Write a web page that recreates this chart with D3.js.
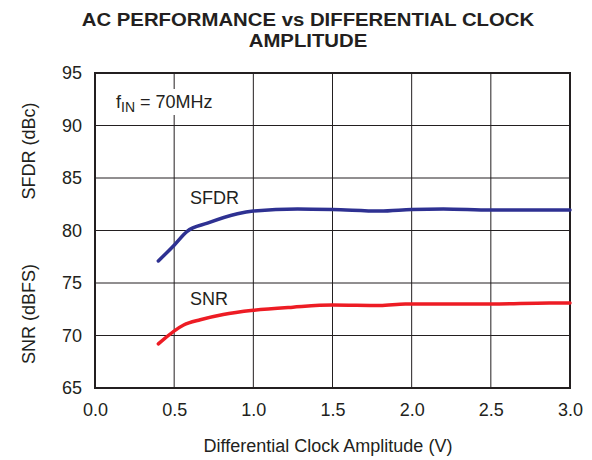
<!DOCTYPE html>
<html><head><meta charset="utf-8">
<script src="https://cdn.jsdelivr.net/npm/d3@7"></script>
<style>body{margin:0;background:#fff}svg{display:block}text{font-family:"Liberation Sans",Arial,sans-serif;fill:#231f20}</style>
</head><body><svg id="c" width="592" height="460"></svg>
<script>
const xTicks = [0.0, 0.5, 1.0, 1.5, 2.0, 2.5, 3.0];
const yTicks = [65, 70, 75, 80, 85, 90, 95];
const sfdrX = [0.4, 0.5, 0.58, 0.71, 0.9, 1.0, 1.28, 1.5, 1.8, 2.0, 2.2, 2.5, 3.0];
const sfdrY = [77.1, 78.6, 79.9, 80.7, 81.6, 81.85, 82.05, 82.0, 81.85, 82.0, 82.05, 81.95, 81.95];
const snrX = [0.4, 0.56, 0.665, 0.81, 1.0, 1.25, 1.5, 1.8, 1.96, 2.5, 2.87, 3.0];
const snrY = [69.2, 71.0, 71.5, 72.0, 72.4, 72.7, 72.9, 72.85, 73.0, 73.0, 73.1, 73.1];

const svg = d3.select("#c");
const L = 95, R = 570, T = 73, B = 388;
const x = d3.scaleLinear().domain([0, 3]).range([L, R]);
const y = d3.scaleLinear().domain([65, 95]).range([B, T]);
const FF = '"Liberation Sans",Arial,sans-serif';

// title
svg.append("text").attr("transform", "translate(308,26) scale(1.13,1)").attr("text-anchor", "middle")
  .style("font-size", "18px").style("font-weight", "bold").text("AC PERFORMANCE vs DIFFERENTIAL CLOCK");
svg.append("text").attr("transform", "translate(308,47) scale(1.13,1)").attr("text-anchor", "middle")
  .style("font-size", "18px").style("font-weight", "bold").text("AMPLITUDE");

// grid
const g = svg.append("g");
g.selectAll(".vg").data(xTicks).join("line")
  .attr("x1", d => x(d)).attr("x2", d => x(d)).attr("y1", T).attr("y2", B)
  .attr("stroke", "#231f20").attr("stroke-width", 1);
g.selectAll(".hg").data(yTicks).join("line")
  .attr("x1", L).attr("x2", R).attr("y1", d => y(d)).attr("y2", d => y(d))
  .attr("stroke", "#231f20").attr("stroke-width", 1);

// label backgrounds
svg.append("rect").attr("x", 112).attr("y", 89).attr("width", 107).attr("height", 26).attr("fill", "#fff");
const fin = svg.append("text").attr("x", 116).attr("y", 108).style("font-size", "18px");
fin.append("tspan").text("f");
fin.append("tspan").attr("dy", 4).style("font-size", "14px").text("IN");
fin.append("tspan").attr("dy", -4).text(" = 70MHz");

svg.append("text").attr("x", 190).attr("y", 204).style("font-size", "18px").text("SFDR");
svg.append("text").attr("x", 190).attr("y", 305).style("font-size", "18px").text("SNR");

// frame
svg.append("rect").attr("x", L).attr("y", T).attr("width", R - L).attr("height", B - T)
  .attr("fill", "none").attr("stroke", "#231f20").attr("stroke-width", 2);

// lines
const line = d3.line().curve(d3.curveMonotoneX).x(d => x(d[0])).y(d => y(d[1]));
svg.append("path").datum(sfdrX.map((v, i) => [v, sfdrY[i]])).attr("d", line)
  .attr("fill", "none").attr("stroke", "#2e3192").attr("stroke-width", 3.5).attr("stroke-linecap", "round");
svg.append("path").datum(snrX.map((v, i) => [v, snrY[i]])).attr("d", line)
  .attr("fill", "none").attr("stroke", "#ed1c24").attr("stroke-width", 3.5).attr("stroke-linecap", "round");

// axes tick labels
const xa = svg.append("g").attr("transform", `translate(0,${B})`)
  .call(d3.axisBottom(x).tickValues(xTicks).tickFormat(d3.format(".1f")).tickSize(0).tickPadding(15));
const ya = svg.append("g").attr("transform", `translate(${L},0)`)
  .call(d3.axisLeft(y).tickValues(yTicks).tickFormat(d3.format("d")).tickSize(0).tickPadding(13));
[xa, ya].forEach(a => {
  a.select(".domain").remove();
  a.selectAll("text").style("font-size", "18px").attr("fill", "#231f20").style("font-family", FF);
});

// axis titles
svg.append("text").attr("transform", "translate(35,151) rotate(-90)").attr("text-anchor", "middle")
  .style("font-size", "18px").text("SFDR (dBc)");
svg.append("text").attr("transform", "translate(35,314) rotate(-90)").attr("text-anchor", "middle")
  .style("font-size", "18px").text("SNR (dBFS)");
svg.append("text").attr("x", 328).attr("y", 452).attr("text-anchor", "middle")
  .style("font-size", "18px").text("Differential Clock Amplitude (V)");
</script></body></html>
